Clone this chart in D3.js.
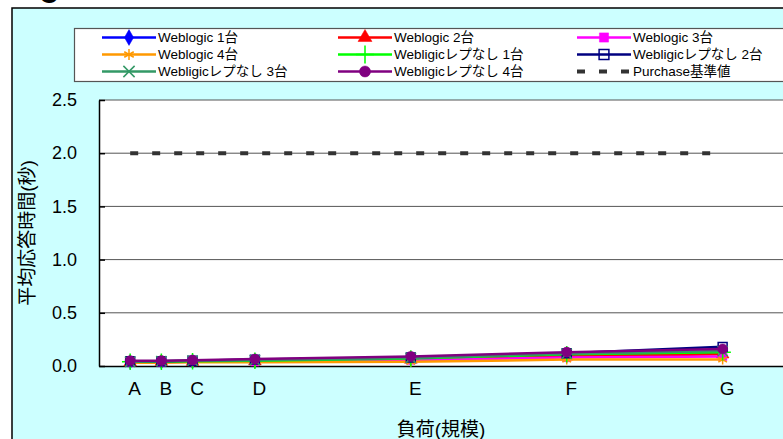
<!DOCTYPE html>
<html>
<head>
<meta charset="utf-8">
<script src="https://cdn.jsdelivr.net/npm/d3@7"></script>
<style>
  html, body { margin: 0; padding: 0; background: #ffffff; }
  svg { display: block; }
  text { font-family: "Liberation Sans", Arial, "Noto Sans CJK JP", sans-serif; fill: #000; }
</style>
</head>
<body>
<script>
// Load levels (numeric position on the x axis) and their labels
const loadLevels = [1, 2, 3, 5, 10, 15, 20];
const loadLabels = ["A", "B", "C", "D", "E", "F", "G"];
const yTicks = [0, 0.5, 1.0, 1.5, 2.0, 2.5];

// Average response time (seconds) per configuration
const weblogic1 = [0.040, 0.040, 0.045, 0.050, 0.070, 0.100, 0.120];
const weblogic2 = [0.035, 0.040, 0.040, 0.045, 0.060, 0.090, 0.110];
const weblogic3 = [0.035, 0.035, 0.040, 0.040, 0.055, 0.080, 0.090];
const weblogic4 = [0.030, 0.030, 0.035, 0.035, 0.040, 0.060, 0.060];
const noRep1 = [0.040, 0.040, 0.045, 0.050, 0.070, 0.110, 0.130];
const noRep2 = [0.045, 0.045, 0.050, 0.060, 0.080, 0.120, 0.180];
const noRep3 = [0.040, 0.045, 0.050, 0.055, 0.075, 0.115, 0.140];
const noRep4 = [0.050, 0.050, 0.055, 0.065, 0.090, 0.130, 0.160];
const purchaseTarget = 2.0;

const seriesNames = [
  "Weblogic 1台", "Weblogic 2台", "Weblogic 3台", "Weblogic 4台",
  "Webligicレプなし 1台", "Webligicレプなし 2台", "Webligicレプなし 3台", "Webligicレプなし 4台"
];
const seriesValues = [weblogic1, weblogic2, weblogic3, weblogic4, noRep1, noRep2, noRep3, noRep4];
const seriesColors = ["#0000FF", "#FF0000", "#FF00FF", "#FF9900", "#00FF00", "#000080", "#339966", "#800080"];
const seriesSymbols = [
  {type: d3.symbolDiamond, size: 60, filled: true},
  {type: d3.symbolTriangle, size: 70, filled: true},
  {type: d3.symbolSquare, size: 70, filled: true},
  {type: d3.symbolAsterisk, size: 70, filled: false},
  {type: d3.symbolPlus, size: 90, filled: false},
  {type: d3.symbolSquare, size: 80, filled: false, hollow: true},
  {type: d3.symbolX, size: 70, filled: false},
  {type: d3.symbolCircle, size: 80, filled: true}
];
const purchaseName = "Purchase基準値";

const W = 783, H = 439;
const svg = d3.select("body").append("svg").attr("width", W).attr("height", H);

// Chart background with border
svg.append("rect").attr("x", 12).attr("y", 8).attr("width", W + 10).attr("height", H + 10)
  .attr("fill", "#CCFFFF").attr("stroke", "#000").attr("stroke-width", 1.5);

// Title (mostly above the visible area)
svg.append("text").attr("x", 39).attr("y", 3).attr("font-size", 26).attr("font-weight", "bold").text("O");

// Plot area
const plot = {left: 99, top: 100, right: 785, bottom: 366};
svg.append("rect").attr("x", plot.left).attr("y", plot.top)
  .attr("width", plot.right - plot.left).attr("height", plot.bottom - plot.top)
  .attr("fill", "#ffffff");

const x = d3.scaleLinear().domain([0, 22]).range([plot.left, plot.right]);
const y = d3.scaleLinear().domain([0, 2.5]).range([plot.bottom, plot.top]);

// Gridlines
svg.append("g").selectAll("line").data(yTicks.filter(d => d > 0)).join("line")
  .attr("x1", plot.left).attr("x2", plot.right)
  .attr("y1", d => y(d)).attr("y2", d => y(d))
  .attr("stroke", "#555").attr("stroke-width", 1);

// Y axis
const yAxis = svg.append("g").attr("transform", `translate(${plot.left},0)`)
  .call(d3.axisLeft(y).tickValues(yTicks).tickFormat(d3.format(".1f")).tickSizeInner(-6).tickSizeOuter(0).tickPadding(22));
yAxis.select(".domain").attr("stroke", "#000").attr("stroke-width", 1.5);
yAxis.selectAll(".tick line").attr("stroke", "#000").attr("stroke-width", 1.5);
yAxis.selectAll("text").attr("font-size", 18).attr("fill", "#000");

// X axis
const xAxis = svg.append("g").attr("transform", `translate(0,${plot.bottom})`)
  .call(d3.axisBottom(x).tickValues(loadLevels).tickFormat((d, i) => loadLabels[i]).tickSize(0).tickPadding(16));
xAxis.select(".domain").attr("stroke", "#000").attr("stroke-width", 1.5);
xAxis.selectAll("text").attr("font-size", 19).attr("fill", "#000").attr("dx", 4);

// Axis titles
svg.append("text").attr("transform", `translate(34,${(plot.top + plot.bottom) / 2}) rotate(-90)`)
  .attr("text-anchor", "middle").attr("font-size", 19).text("平均応答時間(秒)");
svg.append("text").attr("x", 441).attr("y", 436).attr("text-anchor", "middle").attr("font-size", 19).text("負荷(規模)");

// Purchase target line
svg.append("line")
  .attr("x1", x(loadLevels[0])).attr("x2", x(loadLevels[loadLevels.length - 1]))
  .attr("y1", y(purchaseTarget)).attr("y2", y(purchaseTarget))
  .attr("stroke", "#333").attr("stroke-width", 4).attr("stroke-dasharray", "8,14");

// Series lines and markers
const line = d3.line().x((d, i) => x(loadLevels[i])).y(d => y(d));
function drawMarker(g, s, color, cx, cy, scale) {
  const p = g.append("path")
    .attr("d", d3.symbol().type(s.type).size(s.size * scale)())
    .attr("transform", `translate(${cx},${cy})`);
  if (s.hollow) p.attr("fill", "#fff").attr("fill-opacity", 0).attr("stroke", color).attr("stroke-width", 1.5);
  else if (s.filled) p.attr("fill", color).attr("stroke", color).attr("stroke-width", 0.5);
  else p.attr("fill", "none").attr("stroke", color).attr("stroke-width", 1.5);
  return p;
}
seriesValues.forEach((vals, k) => {
  const g = svg.append("g");
  g.append("path").datum(vals).attr("d", line)
    .attr("fill", "none").attr("stroke", seriesColors[k]).attr("stroke-width", 2.5);
  vals.forEach((v, i) => drawMarker(g, seriesSymbols[k], seriesColors[k], x(loadLevels[i]), y(v), 1));
});

// Legend
svg.append("rect").attr("x", 74.5).attr("y", 28.5).attr("width", W).attr("height", 53)
  .attr("fill", "#fff").attr("stroke", "#555").attr("stroke-width", 1.2);
const colX = [102, 338, 577];
const rowY = [37.5, 54.5, 71.5];
const legendItems = seriesNames.map((n, k) => ({name: n, k})).concat([{name: purchaseName, k: -1}]);
legendItems.forEach((it, idx) => {
  const cx = colX[idx % 3], cy = rowY[Math.floor(idx / 3)];
  const g = svg.append("g");
  if (it.k >= 0) {
    g.append("line").attr("x1", cx).attr("x2", cx + 54).attr("y1", cy).attr("y2", cy)
      .attr("stroke", seriesColors[it.k]).attr("stroke-width", 2.5);
    drawMarker(g, seriesSymbols[it.k], seriesColors[it.k], cx + 27, cy, 1.2);
  } else {
    g.append("line").attr("x1", cx).attr("x2", cx + 54).attr("y1", cy).attr("y2", cy)
      .attr("stroke", "#333").attr("stroke-width", 4).attr("stroke-dasharray", "8,14");
  }
  g.append("text").attr("x", cx + 56).attr("y", cy).attr("dy", "0.36em")
    .attr("font-size", 13.5).text(it.name);
});
</script>
</body>
</html>
